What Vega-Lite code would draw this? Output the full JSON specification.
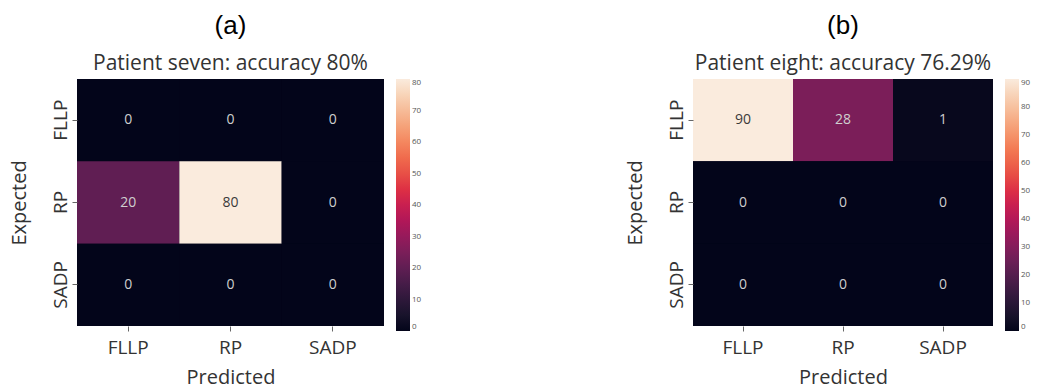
{
  "$schema": "https://vega.github.io/schema/vega-lite/v6.json",
  "background": "white",
  "padding": {"left": 9, "top": 13, "right": 0, "bottom": 3},
  "spacing": 203,
  "config": {
    "view": {"stroke": null, "fill": "#03051a"},
    "axis": {
      "grid": false,
      "domain": false,
      "ticks": true,
      "tickSize": 5,
      "tickColor": "#666",
      "labelFont": "Open Sans",
      "labelFontSize": 19,
      "labelColor": "#333",
      "titleFont": "Open Sans",
      "titleFontSize": 20,
      "titleFontWeight": "normal",
      "titleColor": "#333"
    },
    "axisX": {"labelAngle": 0, "labelPadding": 7, "titlePadding": 10},
    "axisY": {"labelAngle": -90, "labelAlign": "center", "labelBaseline": "alphabetic", "labelPadding": 6, "titlePadding": 22},
    "legend": {
      "title": null,
      "type": "gradient",
      "gradientLength": 252,
      "gradientThickness": 14,
      "gradientStrokeWidth": 0,
      "labelFont": "Open Sans",
      "labelFontSize": 8,
      "labelColor": "#555",
      "labelOverlap": false,
      "labelOffset": 6,
      "offset": 12
    },
    "title": {
      "font": "Liberation Sans",
      "fontSize": 26,
      "fontWeight": "normal",
      "color": "#000",
      "subtitleFont": "Open Sans",
      "subtitleFontSize": 21,
      "subtitleColor": "#333",
      "subtitlePadding": 14,
      "anchor": "middle",
      "frame": "group",
      "offset": 5
    }
  },
  "resolve": {"scale": {"color": "independent"}, "legend": {"color": "independent"}},
  "hconcat": [
    {
      "title": {"text": "(a)", "subtitle": "Patient seven: accuracy 80%"},
      "width": 307,
      "height": 247,
      "data": {"values": [
        {"Expected": "FLLP", "Predicted": "FLLP", "value": 0},
        {"Expected": "FLLP", "Predicted": "RP", "value": 0},
        {"Expected": "FLLP", "Predicted": "SADP", "value": 0},
        {"Expected": "RP", "Predicted": "FLLP", "value": 20},
        {"Expected": "RP", "Predicted": "RP", "value": 80},
        {"Expected": "RP", "Predicted": "SADP", "value": 0},
        {"Expected": "SADP", "Predicted": "FLLP", "value": 0},
        {"Expected": "SADP", "Predicted": "RP", "value": 0},
        {"Expected": "SADP", "Predicted": "SADP", "value": 0}
      ]},
      "encoding": {
        "x": {"field": "Predicted", "type": "nominal", "sort": ["FLLP", "RP", "SADP"], "scale": {"paddingInner": 0, "paddingOuter": 0}, "axis": {"orient": "bottom"}},
        "y": {"field": "Expected", "type": "nominal", "sort": ["FLLP", "RP", "SADP"], "scale": {"paddingInner": 0, "paddingOuter": 0}}
      },
      "layer": [
        {
          "mark": {"type": "rect"},
          "encoding": {
            "color": {"field": "value", "type": "quantitative",
              "scale": {"type": "linear", "domain": [0, 80], "range": ["#03051a", "#35193e", "#701f57", "#ad1759", "#e13342", "#f37651", "#f6b48f", "#faebdd"]},
              "legend": {"values": [0, 10, 20, 30, 40, 50, 60, 70, 80]}}
          }
        },
        {
          "mark": {"type": "text", "font": "Open Sans", "fontSize": 14},
          "encoding": {
            "text": {"field": "value", "type": "quantitative"},
            "color": {"condition": {"test": "datum.value > 50", "value": "#3a3a3a"}, "value": "#cfcfcf"}
          }
        }
      ]
    },
    {
      "title": {"text": "(b)", "subtitle": "Patient eight: accuracy 76.29%"},
      "width": 300,
      "height": 247,
      "data": {"values": [
        {"Expected": "FLLP", "Predicted": "FLLP", "value": 90},
        {"Expected": "FLLP", "Predicted": "RP", "value": 28},
        {"Expected": "FLLP", "Predicted": "SADP", "value": 1},
        {"Expected": "RP", "Predicted": "FLLP", "value": 0},
        {"Expected": "RP", "Predicted": "RP", "value": 0},
        {"Expected": "RP", "Predicted": "SADP", "value": 0},
        {"Expected": "SADP", "Predicted": "FLLP", "value": 0},
        {"Expected": "SADP", "Predicted": "RP", "value": 0},
        {"Expected": "SADP", "Predicted": "SADP", "value": 0}
      ]},
      "encoding": {
        "x": {"field": "Predicted", "type": "nominal", "sort": ["FLLP", "RP", "SADP"], "scale": {"paddingInner": 0, "paddingOuter": 0}, "axis": {"orient": "bottom"}},
        "y": {"field": "Expected", "type": "nominal", "sort": ["FLLP", "RP", "SADP"], "scale": {"paddingInner": 0, "paddingOuter": 0}}
      },
      "layer": [
        {
          "mark": {"type": "rect"},
          "encoding": {
            "color": {"field": "value", "type": "quantitative",
              "scale": {"type": "linear", "domain": [0, 90], "range": ["#03051a", "#35193e", "#701f57", "#ad1759", "#e13342", "#f37651", "#f6b48f", "#faebdd"]},
              "legend": {"values": [0, 10, 20, 30, 40, 50, 60, 70, 80, 90]}}
          }
        },
        {
          "mark": {"type": "text", "font": "Open Sans", "fontSize": 14},
          "encoding": {
            "text": {"field": "value", "type": "quantitative"},
            "color": {"condition": {"test": "datum.value > 50", "value": "#3a3a3a"}, "value": "#cfcfcf"}
          }
        }
      ]
    }
  ]
}
